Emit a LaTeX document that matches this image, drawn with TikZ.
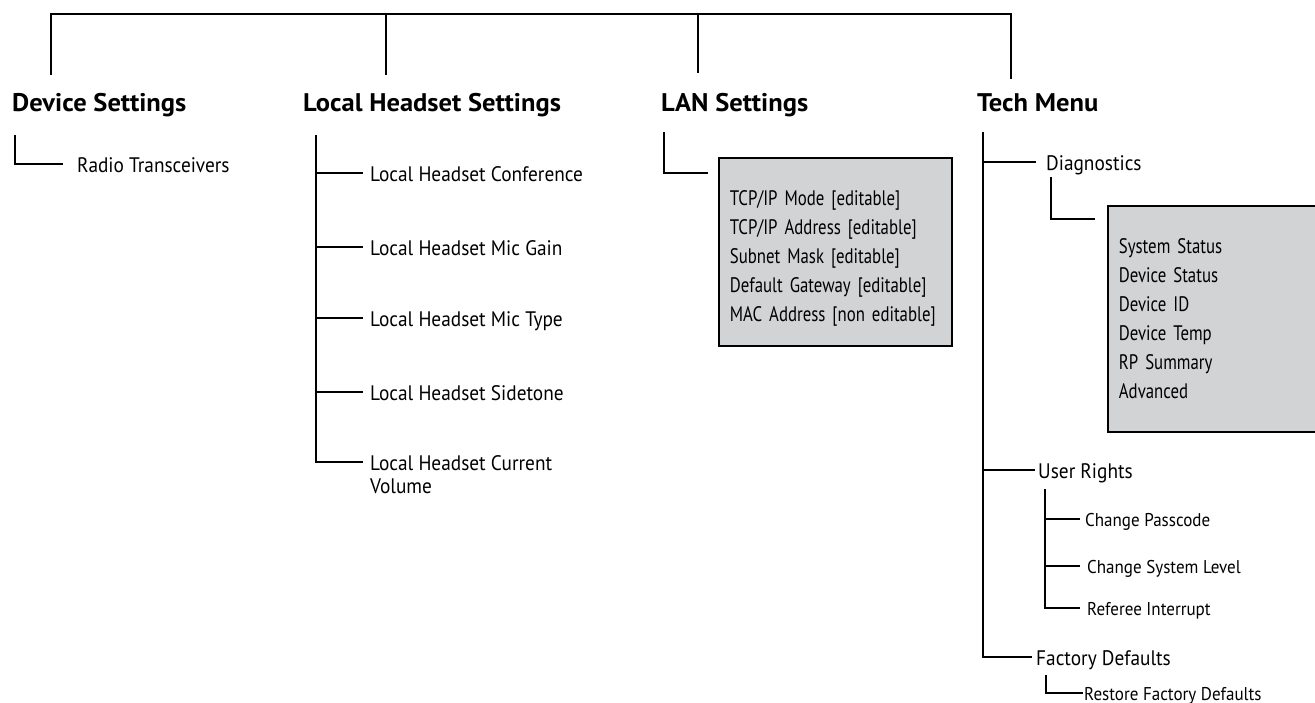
\documentclass[tikz,border=0pt]{standalone}
\usepackage{fontspec}
\setmainfont{PT Sans}[UprightFeatures={FakeStretch=0.92},BoldFeatures={FakeStretch=1.04}]
\newfontfamily\boxfamily{PT Sans}[FakeStretch=0.8]
\newcommand\fhead{\fontsize{25.5}{30}\selectfont\bfseries}
\newcommand\fmain{\fontsize{21}{29}\selectfont}
\newcommand\flist{\boxfamily\fontsize{21}{29}\selectfont\hyphenpenalty=10000 }
\newcommand\fsub{\fontsize{18.5}{22}\selectfont}
\definecolor{boxgray}{RGB}{209,211,212}
\tikzset{
  conn/.style={draw=black, line width=1.8pt},
  head/.style={anchor=base west, inner sep=0pt, font=\fhead},
  itm/.style={anchor=west, inner sep=0pt, font=\fmain, text height=16pt, text depth=0pt},
  subitm/.style={anchor=west, inner sep=0pt, font=\fsub, text height=14pt, text depth=0pt},
  listbox/.style={draw=black, line width=1.8pt, fill=boxgray, anchor=north west,
    inner xsep=11pt, inner ysep=0pt, align=left, font=\flist},
}
\begin{document}
\begin{tikzpicture}[x=1pt, y=-1pt]
\useasboundingbox (0,0) rectangle (1315,702);

% headers
\node[head] (ds)   at (12,111)  {Device Settings};
\node[head] (lhs)  at (303,111) {Local Headset Settings};
\node[head] (lan)  at (661,111) {LAN Settings};
\node[head] (tech) at (977,111) {Tech Menu};

% top bar
\coordinate (ds-top)   at (51,75);
\coordinate (lhs-top)  at (386,75);
\coordinate (lan-top)  at (698,73);
\coordinate (tech-top) at (1011,79);
\coordinate (bar-l) at (51,14);
\coordinate (bar-r) at (1011,14);
\draw[conn] (ds-top) -- (bar-l) -- (bar-r) -- (tech-top);
\draw[conn] (lhs-top) -- (lhs-top |- bar-l);
\draw[conn] (lan-top) -- (lan-top |- bar-l);

% Device Settings
\node[itm] (radio) at (77,164) {Radio Transceivers};
\coordinate (ds-c) at (15,135);
\draw[conn] (ds-c) |- ([xshift=-14pt]radio.west);

% Local Headset Settings
\node[itm] (lh1) at (370,173) {Local Headset Conference};
\node[itm] (lh2) at (370,247) {Local Headset Mic Gain};
\node[itm] (lh3) at (370,318) {Local Headset Mic Type};
\node[itm] (lh4) at (370,392) {Local Headset Sidetone};
\node[itm] (lh5) at (370,462) {Local Headset Current};
\node[itm] (lh5v) at ([yshift=-23pt]lh5.west) {Volume};
\coordinate (lhs-c) at (316,135);
\draw[conn] (lhs-c) |- ([xshift=-7pt]lh5.west);
\foreach \n in {lh1,lh2,lh3,lh4}
  \draw[conn] (lhs-c |- \n.west) -- ([xshift=-7pt]\n.west);

% LAN Settings
\node[listbox, minimum width=233pt, minimum height=188pt, text width=211pt] (lanbox) at (718,157)
  {\rule{0pt}{28pt}TCP/IP Mode [editable]\\TCP/IP Address [editable]\\Subnet Mask [editable]\\Default Gateway [editable]\\MAC Address [non editable]};
\coordinate (lan-c) at (664,132);
\draw[conn] (lan-c) |- ([shift={(-10,16)}]lanbox.north west);

% Tech Menu
\node[itm] (diag) at (1046,162) {Diagnostics};
\node[itm] (user) at (1038,470) {User Rights};
\node[itm] (fact) at (1036,657) {Factory Defaults};
\coordinate (tech-c) at (983,132);
\draw[conn] (tech-c) |- ([xshift=-4pt]fact.west);
\draw[conn] (tech-c |- diag.west) -- ([xshift=-10pt]diag.west);
\draw[conn] (tech-c |- user.west) -- ([xshift=-3pt]user.west);

% Diagnostics box
\node[listbox, minimum width=230pt, minimum height=226pt, text width=208pt] (diagbox) at (1107,205)
  {System Status\\Device Status\\Device ID\\Device Temp\\RP Summary\\Advanced};
\coordinate (diag-c) at (1051,177);
\draw[conn] (diag-c) |- ([shift={(-12,14)}]diagbox.north west);

% User Rights
\node[subitm] (pass) at (1085,519) {Change Passcode};
\node[subitm] (level) at (1087,566) {Change System Level};
\node[subitm] (ref) at (1087,608) {Referee Interrupt};
\coordinate (user-c) at (1045,489);
\draw[conn] (user-c) |- ([xshift=-7pt]ref.west);
\draw[conn] (user-c |- pass.west) -- ([xshift=-5pt]pass.west);
\draw[conn] (user-c |- level.west) -- ([xshift=-7pt]level.west);

% Factory Defaults
\node[subitm] (restore) at (1084,693) {Restore Factory Defaults};
\coordinate (fact-c) at (1046,675);
\draw[conn] (fact-c) |- ([xshift=-1pt]restore.west);
\end{tikzpicture}
\end{document}
